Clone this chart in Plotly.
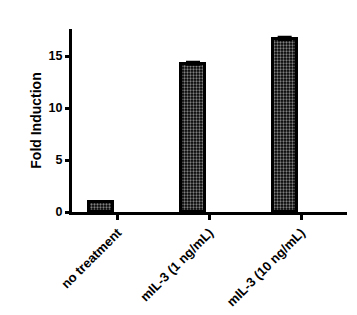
import plotly.graph_objects as go

categories = ["no treatment", "mIL-3 (1 ng/mL)", "mIL-3 (10 ng/mL)"]
fold_induction = [1.0, 14.2, 16.6]
errors = [0.0, 0.2, 0.2]
y_ticks = [0, 5, 10, 15]

fig = go.Figure()
fig.add_trace(go.Bar(
    x=categories,
    y=fold_induction,
    width=0.26,
    offset=-0.31,
    marker=dict(
        color="black",
        line=dict(color="black", width=3),
        pattern=dict(shape=".", bgcolor="black", fgcolor="white", size=3, solidity=0.45),
    ),
    error_y=dict(type="data", array=errors, symmetric=False, arrayminus=[0, 0, 0],
                 color="black", thickness=3, width=7),
))

font = dict(family="Liberation Sans, Arial", size=13, color="black", weight="bold")
fig.update_layout(
    width=357, height=315,
    margin=dict(l=72, r=10, t=29, b=103),
    paper_bgcolor="white", plot_bgcolor="white",
    showlegend=False,
    font=font,
    bargap=0,
)
fig.update_xaxes(
    type="category", range=[-0.5, 2.5], automargin=False,
    showline=True, linecolor="black", linewidth=3,
    ticks="outside", ticklen=5, tickwidth=3, tickcolor="black",
    tickangle=-45, tickfont=font, showgrid=False, zeroline=False,
)
fig.update_yaxes(
    range=[0, 17.6], tickvals=y_ticks, automargin=False,
    showline=True, linecolor="black", linewidth=3,
    ticks="outside", ticklen=4, tickwidth=3, tickcolor="black",
    tickfont=dict(family="Liberation Sans, Arial", size=12.5, color="black", weight="bold"),
    showgrid=False, zeroline=False,
    title=dict(text="Fold Induction", font=dict(family="Liberation Sans, Arial", size=14, color="black", weight="bold"), standoff=4),
)
fig.write_html("out.html")
